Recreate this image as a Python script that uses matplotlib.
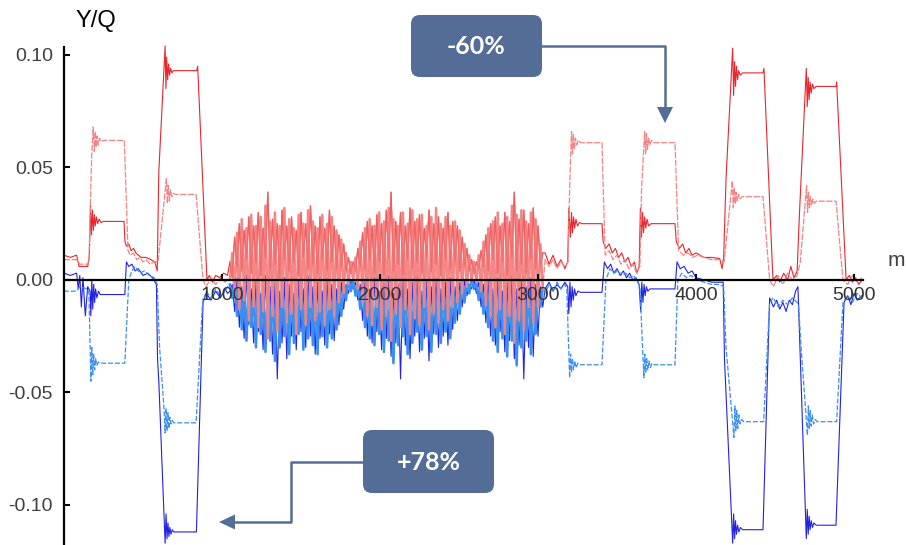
import numpy as np
import matplotlib
matplotlib.use("Agg")
import matplotlib.pyplot as plt
from matplotlib.patches import FancyBboxPatch, Polygon

# === DATEN ===

# Rauschbereich 1050 ... 3030 m, Schrittweite 15 m
noise_start = 1050
noise_step = 15

# rot (durchgezogen)
red_left_x = [0, 40, 80, 95, 150, 160, 168, 174, 180, 186, 192, 198, 205, 213, 222, 235, 250, 380,
              386, 395, 410, 425, 440, 455, 470, 490, 520, 550, 575, 590, 600, 640, 645, 650, 656,
              662, 668, 675, 683, 692, 840, 846, 905, 920, 940, 960, 985, 1010, 1035]
red_left_y = [0.011, 0.010, 0.011, 0.006, 0.006, 0.010, 0.033, 0.020, 0.031, 0.022, 0.029, 0.024,
              0.028, 0.025, 0.027, 0.0255, 0.026, 0.026, 0.017, 0.015, 0.016, 0.013, 0.014, 0.012,
              0.011, 0.010, 0.010, 0.009, 0.008, 0.004, 0.048, 0.104, 0.085, 0.099, 0.089, 0.096,
              0.091, 0.094, 0.092, 0.093, 0.093, 0.095, 0.000, 0.002, -0.001, 0.002, 0.001, 0.003, 0.002]
red_noise = [0.008, 0.001, 0.019, 0.006, 0.025, 0.004, 0.022, 0.009, 0.028, 0.003,
             0.024, 0.008, 0.030, 0.002, 0.023, 0.010, 0.039, 0.005, 0.027, 0.007,
             0.025, 0.001, 0.031, 0.009, 0.024, 0.004, 0.028, 0.008, 0.022, 0.002,
             0.030, 0.010, 0.025, 0.005, 0.033, 0.007, 0.024, 0.003, 0.028, 0.009,
             0.023, 0.004, 0.031, 0.008, 0.024, 0.005, 0.020, 0.006, 0.016, 0.004,
             0.010, 0.003, 0.008, 0.004, 0.014, 0.006, 0.021, 0.005, 0.026, 0.009,
             0.024, 0.003, 0.029, 0.008, 0.025, 0.002, 0.031, 0.010, 0.039, 0.004,
             0.026, 0.007, 0.030, 0.002, 0.024, 0.009, 0.032, 0.005, 0.026, 0.008,
             0.029, 0.003, 0.023, 0.010, 0.031, 0.004, 0.025, 0.007, 0.028, 0.002,
             0.023, 0.009, 0.030, 0.005, 0.026, 0.008, 0.024, 0.004, 0.019, 0.006,
             0.014, 0.004, 0.009, 0.003, 0.008, 0.005, 0.013, 0.006, 0.020, 0.004,
             0.025, 0.009, 0.028, 0.003, 0.024, 0.008, 0.030, 0.002, 0.026, 0.010,
             0.039, 0.004, 0.027, 0.007, 0.031, 0.003, 0.025, 0.009, 0.032, 0.005,
             0.024, 0.006, 0.012]
red_right_x = [3045, 3070, 3095, 3120, 3145, 3170, 3188, 3195, 3205, 3212, 3218, 3225, 3232, 3240,
               3250, 3262, 3280, 3405, 3412, 3430, 3450, 3470, 3490, 3510, 3530, 3550, 3570, 3590,
               3610, 3625, 3640, 3648, 3655, 3662, 3668, 3675, 3682, 3690, 3700, 3715, 3867, 3875,
               3895, 3915, 3935, 3955, 3975, 4000, 4050, 4100, 4150, 4165, 4175, 4190, 4232, 4238,
               4244, 4250, 4256, 4263, 4270, 4280, 4295, 4424, 4430, 4487, 4510, 4530, 4555, 4580,
               4600, 4620, 4640, 4655, 4698, 4704, 4710, 4716, 4722, 4729, 4737, 4746, 4760, 4886,
               4890, 4950, 4970, 4990, 5010, 5030, 5050]
red_right_y = [0.012, 0.007, 0.011, 0.006, 0.009, 0.005, 0.008, 0.032, 0.019, 0.030, 0.021, 0.028,
               0.023, 0.027, 0.024, 0.0255, 0.025, 0.025, 0.017, 0.014, 0.016, 0.012, 0.014, 0.010,
               0.012, 0.008, 0.010, 0.006, 0.008, 0.003, 0.006, 0.032, 0.019, 0.030, 0.021, 0.028,
               0.023, 0.027, 0.024, 0.025, 0.025, 0.017, 0.014, 0.016, 0.012, 0.014, 0.011, 0.012,
               0.010, 0.010, 0.0095, 0.005, 0.010, 0.045, 0.103, 0.082, 0.097, 0.086, 0.095, 0.089,
               0.093, 0.091, 0.092, 0.092, 0.094, 0.000, 0.002, -0.001, 0.003, 0.000, 0.006, 0.001,
               0.004, 0.030, 0.094, 0.077, 0.090, 0.080, 0.088, 0.083, 0.087, 0.085, 0.086, 0.086,
               0.088, 0.000, 0.002, -0.001, 0.001, -0.002, 0.000]

# hellrot (gestrichelt)
pink_left_x = [0, 80, 100, 150, 158, 175, 185, 192, 198, 204, 210, 217, 225, 235, 250, 382, 405,
               420, 440, 460, 480, 500, 520, 545, 570, 595, 648, 654, 660, 667, 674, 682, 692, 705,
               836, 880, 900, 930, 960, 990, 1020, 1035]
pink_left_y = [0.009, 0.009, 0.007, 0.007, 0.009, 0.055, 0.068, 0.057, 0.066, 0.059, 0.064, 0.060,
               0.063, 0.0615, 0.062, 0.062, 0.013, 0.011, 0.012, 0.009, 0.010, 0.008, 0.009, 0.007,
               0.008, 0.008, 0.045, 0.034, 0.042, 0.035, 0.040, 0.037, 0.0385, 0.038, 0.038, 0.000,
               -0.003, 0.001, -0.002, 0.001, -0.001, 0.000]
pink_noise = [0.000, 0.012, -0.007, 0.021, -0.013, 0.027, -0.009, 0.023, -0.018, 0.029,
              -0.012, 0.024, -0.021, 0.028, -0.014, 0.033, -0.026, 0.026, -0.016, 0.030,
              -0.023, 0.024, -0.012, 0.032, -0.019, 0.027, -0.015, 0.023, -0.024, 0.029,
              -0.013, 0.025, -0.020, 0.031, -0.012, 0.026, -0.018, 0.023, -0.014, 0.029,
              -0.020, 0.025, -0.013, 0.028, -0.016, 0.022, -0.010, 0.018, -0.006, 0.012,
              -0.002, 0.008, 0.000, 0.010, -0.004, 0.017, -0.010, 0.023, -0.016, 0.027,
              -0.020, 0.024, -0.012, 0.030, -0.022, 0.026, -0.016, 0.032, -0.027, 0.027,
              -0.015, 0.024, -0.021, 0.030, -0.013, 0.025, -0.024, 0.031, -0.017, 0.027,
              -0.020, 0.029, -0.012, 0.024, -0.022, 0.028, -0.015, 0.032, -0.019, 0.025,
              -0.013, 0.028, -0.018, 0.024, -0.012, 0.026, -0.010, 0.022, -0.006, 0.016,
              -0.003, 0.011, 0.000, 0.008, -0.001, 0.011, -0.005, 0.017, -0.011, 0.023,
              -0.016, 0.026, -0.021, 0.030, -0.013, 0.025, -0.024, 0.028, -0.016, 0.033,
              -0.028, 0.029, -0.018, 0.031, -0.022, 0.026, -0.012, 0.030, -0.019, 0.027,
              -0.012, 0.016, -0.004]
pink_right_x = [3045, 3070, 3095, 3120, 3145, 3170, 3190, 3200, 3212, 3218, 3224, 3230, 3237, 3245,
                3255, 3270, 3405, 3425, 3450, 3475, 3500, 3525, 3550, 3575, 3600, 3625, 3645, 3655,
                3675, 3681, 3687, 3693, 3700, 3708, 3718, 3730, 3867, 3890, 3920, 3950, 3980, 4010,
                4050, 4100, 4150, 4178, 4230, 4236, 4242, 4248, 4254, 4261, 4269, 4279, 4292, 4424,
                4466, 4490, 4520, 4550, 4580, 4610, 4640, 4660, 4700, 4706, 4712, 4718, 4724, 4731,
                4739, 4749, 4762, 4886, 4930, 4960, 4990, 5020, 5050]
pink_right_y = [0.009, 0.006, 0.009, 0.005, 0.008, 0.006, 0.008, 0.040, 0.066, 0.056, 0.065, 0.058,
                0.063, 0.060, 0.062, 0.061, 0.061, 0.011, 0.013, 0.009, 0.011, 0.007, 0.009, 0.005,
                0.007, 0.003, 0.006, 0.040, 0.066, 0.056, 0.065, 0.058, 0.063, 0.060, 0.062, 0.061,
                0.061, 0.013, 0.011, 0.012, 0.010, 0.011, 0.010, 0.009, 0.009, 0.008, 0.044, 0.032,
                0.041, 0.034, 0.039, 0.035, 0.038, 0.036, 0.037, 0.037, 0.000, -0.003, 0.002, -0.002,
                0.003, 0.000, 0.002, 0.008, 0.042, 0.030, 0.039, 0.032, 0.037, 0.033, 0.036, 0.034,
                0.035, 0.035, 0.000, -0.002, 0.002, -0.001, 0.001]

# blau (durchgezogen)
blue_left_x = [0, 40, 80, 90, 100, 110, 120, 135, 150, 165, 170, 176, 182, 188, 194, 200, 208, 218,
               230, 385, 395, 410, 430, 450, 470, 500, 530, 560, 585, 592, 600, 640, 646, 652, 658,
               664, 670, 677, 685, 695, 708, 838, 880, 900, 930, 960, 990, 1020, 1035]
blue_left_y = [0.003, 0.002, 0.003, -0.004, 0.002, -0.012, 0.001, -0.016, -0.003, -0.005, -0.016,
               0.000, -0.013, -0.002, -0.010, -0.004, -0.008, -0.005, -0.0065, -0.0065, 0.008, 0.006,
               0.007, 0.004, 0.005, 0.002, 0.003, 0.001, -0.002, -0.035, -0.045, -0.117, -0.104,
               -0.115, -0.108, -0.114, -0.110, -0.113, -0.111, -0.112, -0.112, -0.112, -0.010,
               -0.006, -0.009, -0.005, -0.008, -0.004, -0.006]
blue_noise = [-0.005, -0.002, -0.014, 0.001, -0.021, -0.003, -0.026, 0.002, -0.020, -0.004,
              -0.028, 0.000, -0.023, -0.006, -0.031, 0.002, -0.025, -0.003, -0.033, -0.001,
              -0.044, -0.005, -0.028, 0.001, -0.035, -0.002, -0.025, -0.006, -0.031, 0.000,
              -0.023, -0.004, -0.030, 0.002, -0.025, -0.003, -0.033, -0.001, -0.026, -0.005,
              -0.029, 0.001, -0.024, -0.002, -0.027, -0.004, -0.020, -0.001, -0.013, -0.002,
              -0.006, 0.000, -0.004, -0.001, -0.009, -0.002, -0.018, 0.000, -0.025, -0.004,
              -0.028, 0.001, -0.023, -0.005, -0.031, -0.001, -0.026, 0.002, -0.034, -0.006,
              -0.028, -0.002, -0.044, 0.001, -0.029, -0.004, -0.035, -0.001, -0.025, 0.002,
              -0.032, -0.005, -0.026, 0.000, -0.036, -0.003, -0.024, 0.001, -0.030, -0.004,
              -0.025, -0.001, -0.029, 0.001, -0.022, -0.003, -0.018, -0.001, -0.012, 0.000,
              -0.007, -0.002, -0.004, 0.000, -0.006, -0.001, -0.012, -0.002, -0.019, 0.000,
              -0.025, -0.004, -0.029, 0.001, -0.023, -0.005, -0.032, -0.001, -0.027, 0.002,
              -0.035, -0.004, -0.029, 0.000, -0.044, -0.003, -0.030, 0.001, -0.034, -0.002,
              -0.025, -0.003, -0.012]
blue_right_x = [3045, 3070, 3095, 3120, 3145, 3170, 3188, 3195, 3202, 3209, 3216, 3223, 3231, 3240,
                3252, 3270, 3405, 3420, 3440, 3460, 3480, 3500, 3520, 3540, 3560, 3580, 3600, 3620,
                3640, 3650, 3657, 3664, 3671, 3678, 3686, 3695, 3708, 3867, 3880, 3900, 3925, 3950,
                3975, 4000, 4050, 4100, 4150, 4172, 4180, 4232, 4238, 4244, 4250, 4256, 4263, 4271,
                4281, 4295, 4424, 4466, 4490, 4510, 4530, 4550, 4570, 4590, 4610, 4630, 4645, 4698,
                4704, 4710, 4716, 4722, 4729, 4737, 4746, 4760, 4886, 4937, 4960, 4980, 5000, 5020,
                5050]
blue_right_y = [-0.004, -0.001, -0.005, -0.002, -0.004, -0.001, -0.003, -0.015, -0.001, -0.012,
                -0.003, -0.009, -0.004, -0.007, -0.005, -0.0055, -0.0055, 0.008, 0.005, 0.007,
                0.003, 0.005, 0.002, 0.004, 0.001, 0.003, 0.000, 0.001, -0.002, -0.014, -0.001,
                -0.010, -0.002, -0.007, -0.003, -0.005, -0.004, -0.004, 0.008, 0.005, 0.006, 0.003,
                0.004, 0.001, 0.000, -0.001, -0.001, -0.001, -0.035, -0.117, -0.104, -0.115, -0.107,
                -0.113, -0.109, -0.112, -0.110, -0.111, -0.111, -0.008, -0.012, -0.009, -0.013,
                -0.010, -0.014, -0.009, -0.011, -0.005, -0.003, -0.115, -0.102, -0.113, -0.105,
                -0.111, -0.107, -0.110, -0.108, -0.109, -0.109, -0.010, -0.007, -0.011, -0.006,
                -0.009, -0.007]

# hellblau (gestrichelt)
lblue_left_x = [0, 80, 100, 150, 158, 170, 176, 182, 188, 194, 200, 208, 218, 230, 385, 410, 430,
                450, 480, 510, 540, 570, 590, 605, 632, 640, 646, 652, 658, 664, 670, 677, 685, 695,
                836, 877, 900, 930, 960, 990, 1020, 1035]
lblue_left_y = [-0.005, -0.005, -0.003, -0.004, -0.006, -0.045, -0.030, -0.042, -0.033, -0.040,
                -0.035, -0.038, -0.0365, -0.037, -0.037, 0.000, 0.004, 0.006, 0.003, 0.004, 0.002,
                0.001, -0.002, -0.030, -0.056, -0.068, -0.057, -0.067, -0.059, -0.066, -0.061,
                -0.064, -0.0625, -0.0635, -0.0635, -0.010, -0.005, -0.008, -0.004, -0.007, -0.005,
                -0.003]
lblue_noise = [-0.002, -0.008, -0.001, -0.016, 0.002, -0.022, -0.004, -0.027, 0.001, -0.021,
               -0.006, -0.030, 0.002, -0.024, -0.003, -0.032, 0.000, -0.027, -0.005, -0.036,
               0.002, -0.030, -0.002, -0.025, -0.006, -0.033, 0.001, -0.028, -0.004, -0.024,
               0.002, -0.031, -0.003, -0.026, 0.000, -0.029, -0.005, -0.033, 0.001, -0.025,
               -0.002, -0.030, -0.004, -0.026, 0.000, -0.022, -0.002, -0.016, -0.001, -0.009,
               0.001, -0.005, 0.000, -0.007, -0.002, -0.013, -0.001, -0.021, 0.001, -0.026,
               -0.004, -0.029, 0.002, -0.024, -0.003, -0.032, 0.000, -0.027, -0.005, -0.037,
               0.002, -0.029, -0.002, -0.025, 0.001, -0.033, -0.006, -0.028, 0.001, -0.023,
               -0.003, -0.031, 0.002, -0.025, -0.004, -0.032, 0.000, -0.024, -0.002, -0.028,
               0.001, -0.023, -0.003, -0.026, 0.000, -0.019, -0.002, -0.015, 0.001, -0.010,
               0.000, -0.006, 0.001, -0.004, -0.001, -0.009, 0.000, -0.015, -0.002, -0.021,
               0.001, -0.027, -0.004, -0.032, 0.002, -0.026, -0.003, -0.034, 0.000, -0.027,
               -0.005, -0.038, 0.002, -0.030, -0.002, -0.027, 0.000, -0.033, -0.004, -0.024,
               0.001, -0.012, -0.004]
lblue_right_x = [3045, 3070, 3095, 3120, 3145, 3170, 3182, 3200, 3206, 3212, 3218, 3225, 3232, 3241,
                 3252, 3268, 3405, 3430, 3455, 3480, 3505, 3530, 3555, 3580, 3605, 3630, 3645, 3670,
                 3676, 3682, 3688, 3695, 3702, 3711, 3722, 3738, 3867, 3885, 3910, 3940, 3970, 4000,
                 4050, 4100, 4150, 4175, 4190, 4240, 4246, 4252, 4258, 4264, 4271, 4279, 4289, 4302,
                 4428, 4466, 4490, 4520, 4550, 4580, 4610, 4640, 4650, 4665, 4705, 4711, 4717, 4723,
                 4729, 4736, 4744, 4754, 4767, 4890, 4930, 4960, 4990, 5020, 5050]
lblue_right_y = [-0.006, -0.002, -0.005, -0.001, -0.004, -0.002, -0.004, -0.0435, -0.033, -0.041,
                 -0.035, -0.040, -0.036, -0.039, -0.037, -0.0377, -0.0377, 0.000, 0.005, 0.003,
                 0.004, 0.002, 0.003, 0.001, 0.002, -0.001, -0.003, -0.0435, -0.033, -0.041, -0.035,
                 -0.040, -0.036, -0.039, -0.037, -0.0377, -0.0377, 0.000, 0.003, 0.001, 0.002, 0.000,
                 -0.001, -0.002, -0.002, -0.003, -0.030, -0.070, -0.056, -0.067, -0.058, -0.066,
                 -0.060, -0.064, -0.062, -0.063, -0.063, -0.010, -0.008, -0.012, -0.009, -0.011,
                 -0.008, -0.010, -0.012, -0.030, -0.069, -0.056, -0.066, -0.058, -0.065, -0.060,
                 -0.064, -0.062, -0.063, -0.063, -0.010, -0.007, -0.010, -0.006, -0.008]

y_ticks = [-0.10, -0.05, 0.00, 0.05, 0.10]
x_ticks = [1000, 2000, 3000, 4000, 5000]
label_top = "-60%"
label_bottom = "+78%"

# === SERIEN ZUSAMMENSETZEN ===

def build(left_x, left_y, noise, right_x, right_y):
    nx = noise_start + noise_step * np.arange(len(noise))
    x = np.concatenate([left_x, nx, right_x])
    y = np.concatenate([left_y, noise, right_y])
    return x, y, nx

red_x, red_y, noise_x = build(red_left_x, red_left_y, red_noise, red_right_x, red_right_y)
pink_x, pink_y, _ = build(pink_left_x, pink_left_y, pink_noise, pink_right_x, pink_right_y)
blue_x, blue_y, _ = build(blue_left_x, blue_left_y, blue_noise, blue_right_x, blue_right_y)
lblue_x, lblue_y, _ = build(lblue_left_x, lblue_left_y, lblue_noise, lblue_right_x, lblue_right_y)

# === PLOT ===

plt.rcParams['font.family'] = ['Liberation Sans', 'DejaVu Sans']

c_red, c_pink = '#e8262c', '#f48484'
c_blue, c_lblue = '#2222e4', '#3a8ff0'

fig = plt.figure(figsize=(9.06, 5.45), dpi=100)
ax = fig.add_axes([0, 0, 1, 1])
ax.set_xlim(-405, 5329)
ax.set_ylim(-0.1178, 0.1244)

# ganze Kurven
ax.plot(red_x, red_y, color=c_red, lw=0.8)
ax.plot(blue_x, blue_y, color=c_blue, lw=0.8)
ax.plot(lblue_x, lblue_y, color=c_lblue, lw=0.9, dashes=(4, 1.5))
ax.plot(pink_x, pink_y, color=c_pink, lw=0.9, dashes=(5, 1.2))

# Rauschbereich etwas kräftiger (dichte Linien)
ax.plot(noise_x, lblue_noise, color=c_lblue, lw=1.8)
ax.plot(noise_x, pink_noise, color=c_pink, lw=1.8, alpha=0.95)
ax.plot(noise_x, red_noise, color='#f06a6a', lw=1.0, alpha=0.8)

ax.set_axisbelow(False)
ax.patch.set_visible(False)
for s in ['top', 'right']:
    ax.spines[s].set_visible(False)
ax.spines['left'].set_position(('data', 0))
ax.spines['bottom'].set_position(('data', 0))
ax.spines['left'].set_bounds(-0.1178, 0.1035)
ax.spines['bottom'].set_bounds(0, 5057)
for s in ['left', 'bottom']:
    ax.spines[s].set_linewidth(1.6)
    ax.spines[s].set_color('black')

ax.set_yticks(y_ticks)
ax.set_yticklabels([f"{v:.2f}" for v in y_ticks])
ax.set_xticks(x_ticks)
ax.set_xticklabels([str(v) for v in x_ticks])
ax.tick_params(axis='y', direction='in', length=4, width=1.5, pad=8,
               labelsize=14, labelcolor='#404040')
ax.tick_params(axis='x', direction='in', length=4, width=1.5, pad=5,
               labelsize=14, labelcolor='#333333')

# === ÜBERLAGERUNG IN PIXELN (Beschriftungen, Kästen, Pfeile) ===

ov = fig.add_axes([0, 0, 1, 1], zorder=5)
ov.set_xlim(0, 906)
ov.set_ylim(545, 0)
ov.axis('off')

ov.text(96, 21, "Y/Q", fontsize=17, ha='center', va='center', color='black')
ov.text(896, 260, "m", fontsize=15, ha='center', va='center', color='#404040')

box_color = '#546d96'
ov.add_patch(FancyBboxPatch((411, 15), 131, 62, boxstyle="round,pad=0,rounding_size=9",
                            fc=box_color, ec='none'))
ov.text(476.5, 47, label_top, fontsize=18, fontweight='bold', family='Lato',
        color='white', ha='center', va='center')
ov.plot([542, 665, 665], [46, 46, 110], color=box_color, lw=1.8)
ov.add_patch(Polygon([[657, 107], [673, 107], [665, 123]], closed=True, fc=box_color, ec='none'))

ov.add_patch(FancyBboxPatch((363, 430), 131, 63, boxstyle="round,pad=0,rounding_size=9",
                            fc=box_color, ec='none'))
ov.text(428.5, 462, label_bottom, fontsize=18, fontweight='bold', family='Lato',
        color='white', ha='center', va='center')
ov.plot([363, 291, 291, 233], [462, 462, 522, 522], color=box_color, lw=1.8)
ov.add_patch(Polygon([[235, 514.5], [235, 529.5], [219, 522]], closed=True, fc=box_color, ec='none'))

fig.savefig('out.png', dpi=100)
